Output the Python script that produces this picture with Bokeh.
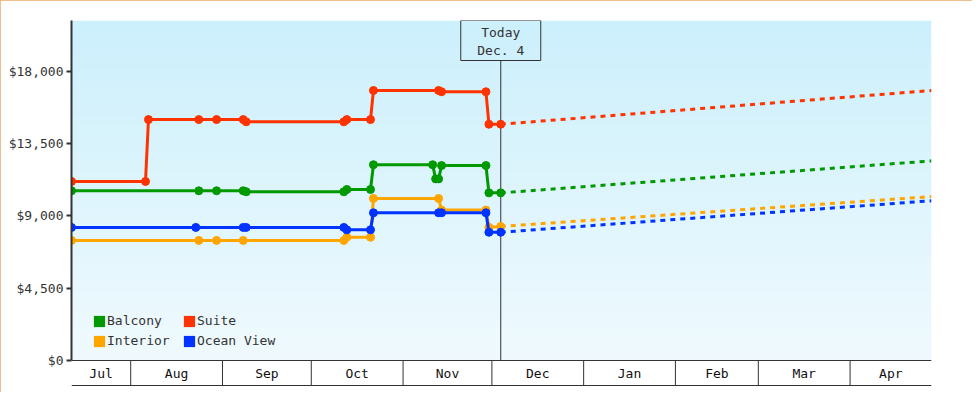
import numpy as np
import pandas as pd
from bokeh.plotting import figure
from bokeh.models import Range1d, FixedTicker, NumeralTickFormatter, Span, Legend, LegendItem
from bokeh.core.properties import value
from bokeh.embed import file_html
from bokeh.resources import INLINE

FONT = "DejaVu Sans Mono"

# ---------------- data ----------------
series_names = ["Balcony", "Suite", "Interior", "Ocean View"]
series_colors = ["#009900", "#ff3300", "#ffa500", "#0033ff"]

balcony_dates = ["2024-07-12", "2024-08-24", "2024-08-30", "2024-09-08", "2024-09-09",
                 "2024-10-12", "2024-10-13", "2024-10-21", "2024-10-22", "2024-11-11",
                 "2024-11-12", "2024-11-13", "2024-11-14", "2024-11-29", "2024-11-30",
                 "2024-12-04"]
balcony_prices = [10560, 10560, 10560, 10560, 10500, 10500, 10640, 10640, 12180, 12180,
                  11300, 11300, 12130, 12130, 10430, 10430]

suite_dates = ["2024-07-12", "2024-08-06", "2024-08-07", "2024-08-24", "2024-08-30",
               "2024-09-08", "2024-09-09", "2024-10-12", "2024-10-13", "2024-10-21",
               "2024-10-22", "2024-11-13", "2024-11-14", "2024-11-29", "2024-11-30",
               "2024-12-04"]
suite_prices = [11140, 11140, 14990, 14990, 14990, 14990, 14850, 14850, 14990, 14990,
                16800, 16800, 16720, 16720, 14700, 14700]

interior_dates = ["2024-07-12", "2024-08-24", "2024-08-30", "2024-09-08", "2024-10-12",
                  "2024-10-13", "2024-10-21", "2024-10-22", "2024-11-13", "2024-11-14",
                  "2024-11-29", "2024-11-30", "2024-12-04"]
interior_prices = [7470, 7470, 7470, 7470, 7470, 7670, 7670, 10080, 10080, 9360,
                   9360, 8290, 8340]

ocean_dates = ["2024-07-12", "2024-08-23", "2024-09-08", "2024-09-09", "2024-10-12",
               "2024-10-13", "2024-10-21", "2024-10-22", "2024-11-13", "2024-11-14",
               "2024-11-29", "2024-11-30", "2024-12-04"]
ocean_prices = [8280, 8280, 8280, 8280, 8280, 8130, 8130, 9190, 9190, 9190,
                9190, 7980, 7980]

forecast_dates = ["2024-12-04", "2025-04-28 12:00"]
balcony_forecast = [10430, 12420]
suite_forecast = [14700, 16800]
interior_forecast = [8340, 10200]
ocean_forecast = [7980, 9940]

today_date = "2024-12-04"
today_text = ["Today", "Dec. 4"]

month_labels = ["Jul", "Aug", "Sep", "Oct", "Nov", "Dec", "Jan", "Feb", "Mar", "Apr"]
month_starts = ["2024-07-01", "2024-08-01", "2024-09-01", "2024-10-01", "2024-11-01",
                "2024-12-01", "2025-01-01", "2025-02-01", "2025-03-01", "2025-04-01",
                "2025-05-01"]

y_ticks = [0, 4500, 9000, 13500, 18000]

range_start = "2024-07-12"
range_end = "2025-04-28 12:00"


def ms(s):
    return pd.Timestamp(s).value / 1e6


def dt(lst):
    return [ms(s) for s in lst]


# ---------------- layout helpers ----------------
K = 18000 / 289.3          # dollars per screen pixel
y_top = 340 * K
y_bot = -28 * K
band = 25 * K

x0, x1 = ms(range_start), ms(range_end)

p = figure(width=972, height=392,
           x_range=Range1d(x0, x1), y_range=Range1d(y_bot, y_top),
           x_axis_location=None, toolbar_location=None, output_backend="svg",
           min_border_left=71, min_border_right=41, min_border_top=20, min_border_bottom=4)
p.grid.visible = False
p.outline_line_color = None
p.background_fill_color = "white"
p.border_fill_color = "white"
p.styles = {"outline": "1px solid #e9a96a", "outline-offset": "-1px"}

# gradient background
N = 340
img = np.empty((N, 1), dtype=np.uint32)
view = img.view(dtype=np.uint8).reshape((N, 1, 4))
bottom_c = np.array([240, 250, 254], dtype=float)
top_c = np.array([204, 240, 252], dtype=float)
t = np.linspace(0, 1, N)[:, None]
cols = bottom_c * (1 - t) + top_c * t
view[:, 0, 0] = cols[:, 0].astype(np.uint8)
view[:, 0, 1] = cols[:, 1].astype(np.uint8)
view[:, 0, 2] = cols[:, 2].astype(np.uint8)
view[:, 0, 3] = 255
p.image_rgba(image=[img], x=x0, y=0, dw=x1 - x0, dh=y_top)

# month band
bounds = [ms(m) for m in month_starts]
inner = [b for b in bounds if x0 < b < x1]
p.segment(x0=inner, y0=[0] * len(inner), x1=inner, y1=[-band] * len(inner),
          line_color="#333333", line_width=1)
centers = []
for i in range(len(month_labels)):
    a = max(bounds[i], x0)
    b = min(bounds[i + 1], x1)
    centers.append((a + b) / 2)
p.text(x=centers, y=[-band / 2] * len(centers), text=month_labels,
       text_align="center", text_baseline="middle",
       text_font=value(FONT), text_font_size="13px", text_color="#111111")
p.add_layout(Span(location=0, dimension="width", line_color="#333333", line_width=1))
p.add_layout(Span(location=-band, dimension="width", line_color="#333333", line_width=1))

# today marker
td = ms(today_date)
p.segment(x0=[td], y0=[0], x1=[td], y1=[300 * K], line_color="#333333", line_width=1)
p.rect(x=[td], y=[320 * K], width=80, height=40, width_units="screen", height_units="screen",
       fill_color=None, line_color="#333333", line_width=1)
p.text(x=[td, td], y=[327.7 * K, 310 * K], text=today_text,
       text_align="center", text_baseline="middle",
       text_font=value(FONT), text_font_size="13px", text_color="#333333")

# series
all_dates = [balcony_dates, suite_dates, interior_dates, ocean_dates]
all_prices = [balcony_prices, suite_prices, interior_prices, ocean_prices]
all_fc = [balcony_forecast, suite_forecast, interior_forecast, ocean_forecast]
proxies = []
for name, color, d, v, fc in zip(series_names, series_colors, all_dates, all_prices, all_fc):
    p.line(dt(forecast_dates), fc, line_color=color, line_width=3, line_dash="5 5")
    p.line(dt(d), v, line_color=color, line_width=3)
    p.scatter(dt(d), v, size=8, fill_color=color, line_color=color)
    # zero-size rects: invisible on the chart, give the legend a filled square swatch
    r = p.rect(x=dt(d), y=v, width=0, height=0, fill_color=color, line_color=None)
    proxies.append(LegendItem(label=name, renderers=[r]))

legend = Legend(items=proxies, location=(21, 40), orientation="horizontal", ncols=2,
                glyph_width=14, glyph_height=14, label_standoff=1, spacing=5,
                label_height=15, label_width=70, padding=0, margin=0,
                border_line_color=None, background_fill_alpha=0,
                label_text_font=FONT, label_text_font_size="13px",
                label_text_color="#333333")
p.add_layout(legend)

# y axis
ax = p.yaxis[0]
ax.ticker = FixedTicker(ticks=y_ticks)
ax.formatter = NumeralTickFormatter(format="$0,0")
ax.bounds = (0, y_top)
ax.axis_line_color = "#333333"
ax.axis_line_width = 2
ax.major_tick_line_color = "#333333"
ax.major_tick_line_width = 2
ax.major_tick_out = 5
ax.major_tick_in = 0
ax.minor_tick_line_color = None
ax.major_label_standoff = 3
ax.major_label_text_font = FONT
ax.major_label_text_font_size = "13px"
ax.major_label_text_color = "#333333"

open("out.html", "w").write(file_html(p, INLINE))
